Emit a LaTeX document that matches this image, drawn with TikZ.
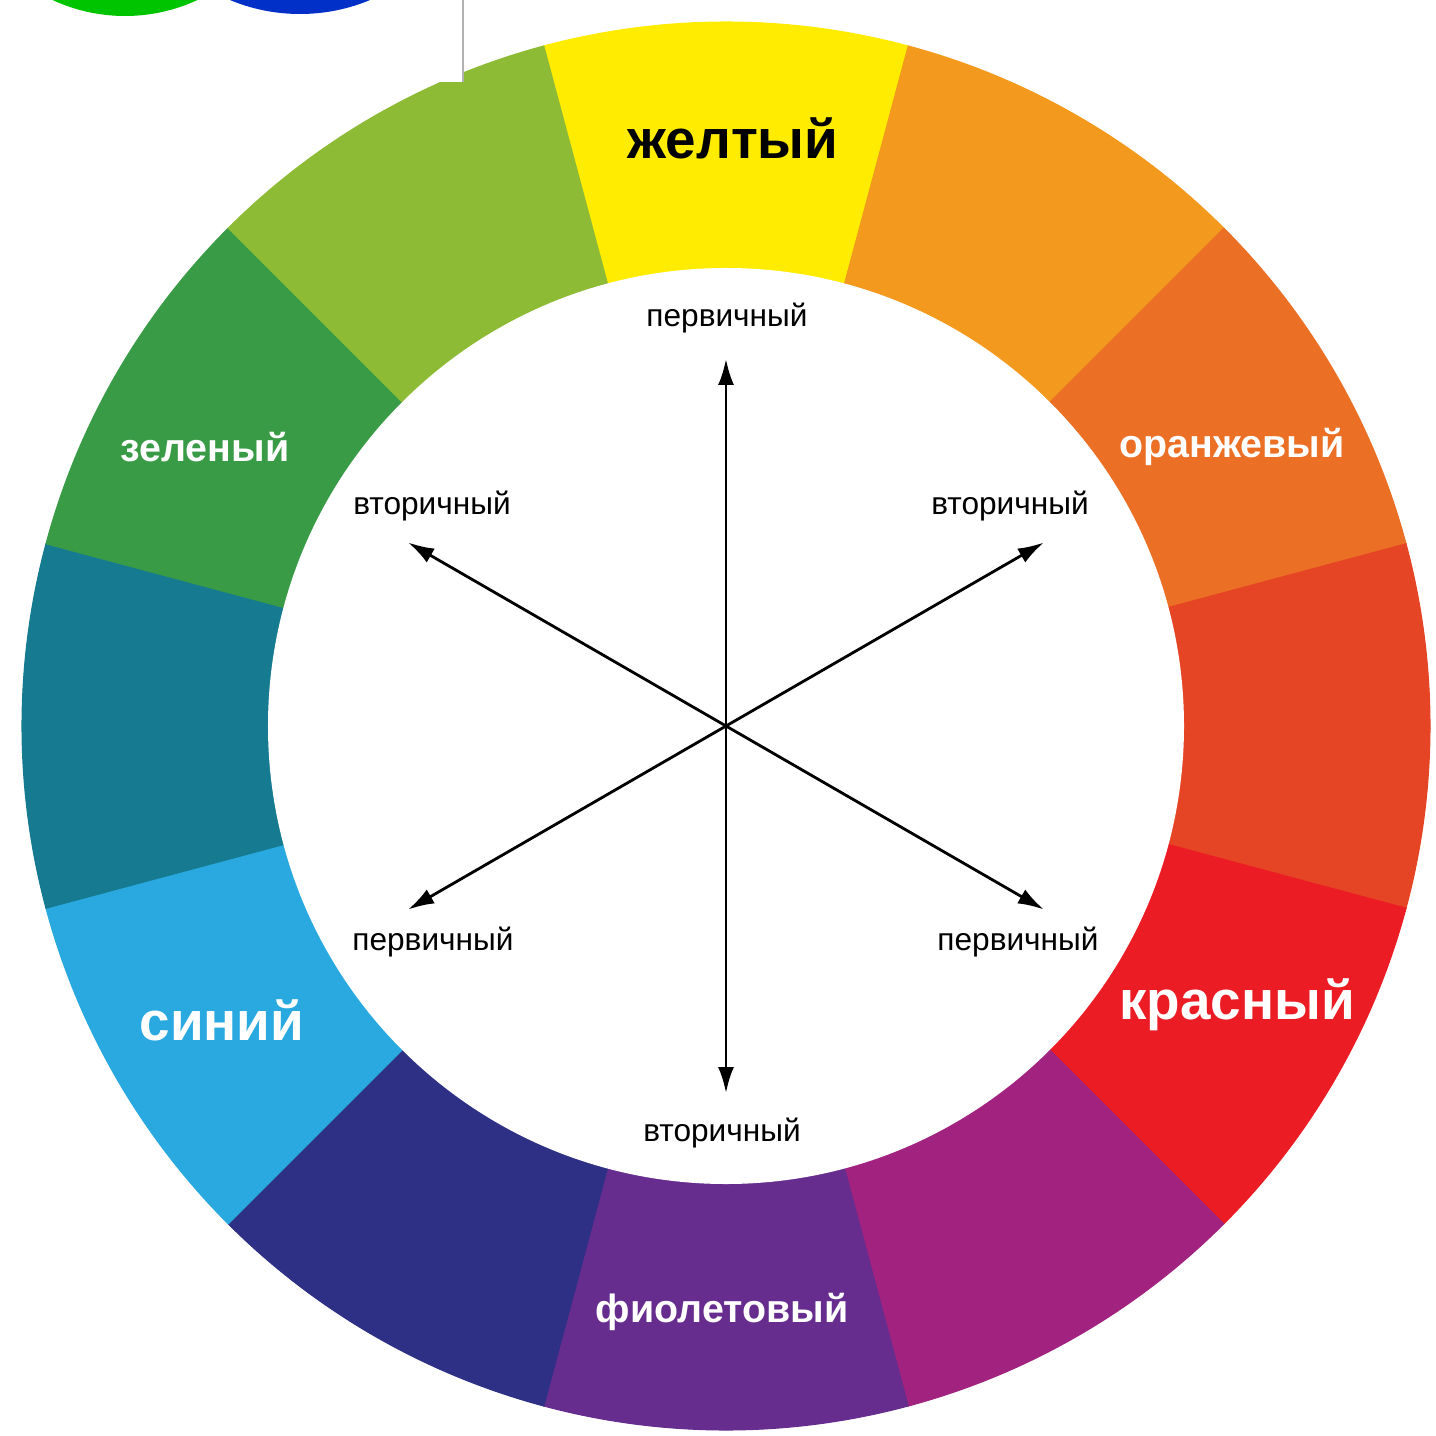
\documentclass[tikz,border=0pt]{standalone}
\usepackage{fontspec}
\setmainfont{Liberation Sans}
\usetikzlibrary{arrows.meta}

\definecolor{cyellow}{HTML}{FFEC00}
\definecolor{camber}{HTML}{F39A1E}
\definecolor{corange}{HTML}{EB6F24}
\definecolor{cvermil}{HTML}{E54425}
\definecolor{cred}{HTML}{EC1C24}
\definecolor{cmagenta}{HTML}{A1237F}
\definecolor{cviolet}{HTML}{662D8E}
\definecolor{cindigo}{HTML}{2E3086}
\definecolor{cblue}{HTML}{29A9E0}
\definecolor{cteal}{HTML}{167A91}
\definecolor{cgreen}{HTML}{3A9B47}
\definecolor{clime}{HTML}{8DBB35}
\definecolor{rgbgreen}{HTML}{00C400}
\definecolor{rgbblue}{HTML}{0030C8}

\tikzset{
	bigname/.style={font=\bfseries\fontsize{15.6}{18}\selectfont},
	midname/.style={font=\bfseries\fontsize{11.2}{13}\selectfont, text=white},
	kind/.style={font=\fontsize{9}{11}\selectfont, text=black},
	ray/.style={line width=0.8pt, -{Latex[length=2.6mm,width=1.6mm]}}
}

\begin{document}
\begin{tikzpicture}
		\useasboundingbox (-7.26,-7.09) rectangle (7.10,7.26);
		\fill [white] (-7.26,-7.09) rectangle (7.10,7.26);

		% wheel
		\foreach \a/\col in {90/cyellow, 60/camber, 30/corange, 0/cvermil, -30/cred, -60/cmagenta,
				-90/cviolet, -120/cindigo, -150/cblue, 180/cteal, 150/cgreen, 120/clime} {
			\filldraw [fill=\col, draw=\col, line width=0.3pt] (0,0) -- (\a-15:7.04)
				arc [start angle=\a-15, end angle=\a+15, radius=7.04] -- cycle;
		}
		\fill [white] (0,0) circle (4.58);

		\node [bigname, text=black] (yellow) at (0.07,5.88) {желтый};
		\node [bigname, text=white] (red) at (5.11,-2.79) {красный};
		\node [bigname, text=white] (blue) at (-5.04,-2.94) {синий};
		\node [midname] (orange) at (5.06,2.79) {оранжевый};
		\node [midname] (green) at (-5.21,2.79) {зеленый};
		\node [midname] (violet) at (-0.04,-5.86) {фиолетовый};

		% arrows
		\coordinate (c) at (0,0);
		\foreach \a/\n in {90/n, 30/ne, 150/nw, 210/sw, 270/s, 330/se} {
			\coordinate (tip\n) at (\a:3.67);
			\draw [ray] (c) -- (tip\n);
		}
		\node [kind] (pn) at (0.01,4.08) {первичный};
		\node [kind] (snw) at (-2.94,2.20) {вторичный};
		\node [kind] (sne) at (2.84,2.20) {вторичный};
		\node [kind] (psw) at (-2.93,-2.16) {первичный};
		\node [kind] (pse) at (2.92,-2.16) {первичный};
		\node [kind] (ss) at (-0.04,-4.07) {вторичный};

		% cut corner of another picture
		\fill [white] (-7.26,6.44) rectangle (-2.63,7.26);
		\begin{scope}
			\clip (-7.26,6.44) rectangle (-2.63,7.26);
			\fill [rgbgreen] (-6.01,8.82) circle (1.72);
			\fill [rgbblue] (-4.26,8.94) circle (1.82);
		\end{scope}
		\draw [black!30, line width=0.6pt] (-2.63,7.26) -- (-2.63,6.44);
	\end{tikzpicture}
\end{document}
